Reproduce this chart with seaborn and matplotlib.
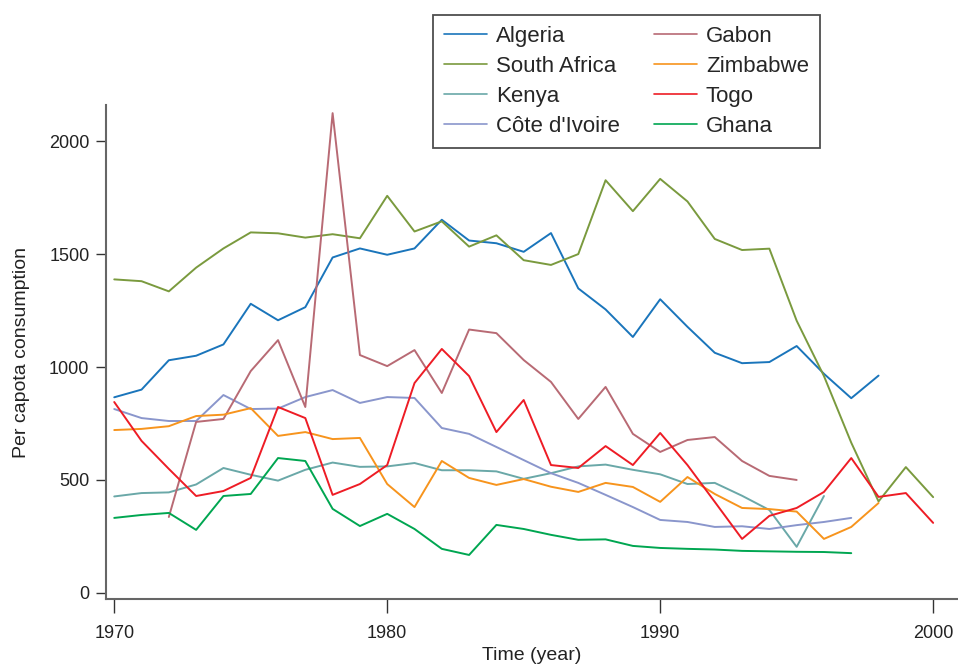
import numpy as np
import pandas as pd
import matplotlib
matplotlib.use("Agg")
import matplotlib.pyplot as plt
import seaborn as sns

# values
algeria = [866, 900, 1030, 1050, 1100, 1280, 1207, 1265, 1485, 1525, 1497, 1525,
           1652, 1560, 1548, 1510, 1593, 1348, 1255, 1133, 1300, 1178, 1063, 1017,
           1022, 1093, 970, 862, 962]
algeria_years = list(range(1970, 1999))

south_africa = [1388, 1380, 1335, 1440, 1525, 1596, 1592, 1573, 1588, 1570, 1758,
                1600, 1645, 1533, 1583, 1473, 1452, 1500, 1827, 1690, 1833, 1733,
                1567, 1518, 1524, 1205, 960, 665, 405, 557, 424]
south_africa_years = list(range(1970, 2001))

kenya = [427, 442, 445, 480, 553, 523, 497, 545, 577, 558, 560, 575, 543, 543, 538,
         505, 530, 560, 568, 545, 525, 482, 487, 430, 367, 204, 429]
kenya_years = list(range(1970, 1997))

cote_divoire = [814, 774, 761, 761, 876, 814, 816, 867, 898, 841, 867, 863, 730,
                704, 646, 588, 530, 487, 434, 380, 323, 314, 292, 295, 283, 300,
                314, 332]
cote_divoire_years = list(range(1970, 1998))

gabon = [336, 757, 770, 982, 1119, 823, 2124, 1053, 1004, 1075, 885, 1166, 1150,
         1031, 934, 770, 912, 704, 624, 677, 690, 584, 518, 500]
gabon_years = list(range(1972, 1996))

zimbabwe = [721, 726, 738, 783, 789, 818, 695, 712, 681, 686, 482, 380, 584, 509,
            478, 504, 470, 447, 487, 469, 403, 513, 438, 376, 371, 360, 239, 292, 398]
zimbabwe_years = list(range(1970, 1999))

togo = [845, 673, 549, 429, 451, 509, 823, 774, 434, 482, 566, 929, 1080, 960, 712,
        854, 566, 553, 650, 566, 708, 566, 403, 239, 341, 376, 447, 597, 425, 442, 310]
togo_years = list(range(1970, 2001))

ghana = [332, 345, 354, 279, 429, 438, 597, 584, 372, 296, 350, 283, 195, 168, 301,
         283, 257, 235, 237, 208, 199, 195, 192, 186, 184, 182, 181, 176]
ghana_years = list(range(1970, 1998))

countries = ["Algeria", "South Africa", "Kenya", "Côte d'Ivoire",
             "Gabon", "Zimbabwe", "Togo", "Ghana"]
colors = ["#1a75bb", "#7a9a3e", "#6aa8a8", "#8a96cc",
          "#b86a74", "#f7941d", "#ee1c25", "#00a651"]

series = [(algeria_years, algeria), (south_africa_years, south_africa),
          (kenya_years, kenya), (cote_divoire_years, cote_divoire),
          (gabon_years, gabon), (zimbabwe_years, zimbabwe),
          (togo_years, togo), (ghana_years, ghana)]

rows = []
for name, (yrs, vals) in zip(countries, series):
    for yr, v in zip(yrs, vals):
        rows.append({"year": yr, "value": v, "country": name})
df = pd.DataFrame(rows)

sns.set_style("ticks")
plt.rcParams['font.family'] = ['Liberation Sans', 'DejaVu Sans']

fig = plt.figure(figsize=(9.58, 6.68), dpi=100)
ax = fig.add_axes([0.1107, 0.1033, 0.889, 0.7395])

sns.lineplot(data=df, x="year", y="value", hue="country", hue_order=countries,
             palette=dict(zip(countries, colors)), linewidth=1.4, ax=ax,
             legend=False)

ax.set_xlim(1969.7, 2000.9)
ax.set_ylim(-27, 2160)
ax.set_xticks([1970, 1980, 1990, 2000])
ax.set_yticks([0, 500, 1000, 1500, 2000])
ax.tick_params(axis='both', labelsize=13, colors='#333333', labelcolor='#222222')
ax.tick_params(axis='x', length=10, width=1, pad=9)
ax.tick_params(axis='y', length=7, width=1, pad=5)
ax.set_xlabel("Time (year)", fontsize=14, color='#222222', labelpad=3)
ax.set_ylabel("Per capota consumption", fontsize=14, color='#222222', labelpad=14)
sns.despine(ax=ax)
for s in ['left', 'bottom']:
    ax.spines[s].set_color('#666666')
    ax.spines[s].set_linewidth(1.5)

handles = [plt.Line2D([], [], color=c, lw=1.2) for c in colors]
leg = fig.legend(handles, countries, ncol=2, loc='upper left',
                 bbox_to_anchor=(433 / 958, 1 - 15 / 668), frameon=True,
                 fancybox=False, edgecolor='#222222',
                 prop={'family': ['Liberation Sans', 'DejaVu Sans'], 'size': 16},
                 handlelength=1.95, handletextpad=0.4, columnspacing=1.5,
                 labelspacing=0.4, borderpad=0.5, borderaxespad=0)
leg.get_frame().set_linewidth(1.3)

fig.savefig("out.png", dpi=100)
